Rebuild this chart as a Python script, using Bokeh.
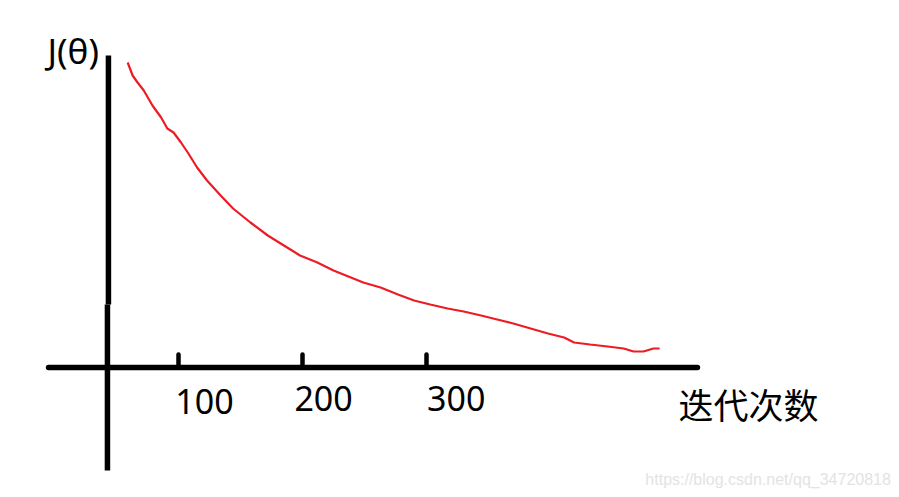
from bokeh.plotting import figure
from bokeh.models import Range1d
from bokeh.core.properties import value
from bokeh.embed import file_html
from bokeh.resources import INLINE

# ---- data ----
iterations = [59, 63, 67, 72, 79, 86, 91, 96, 102, 108, 115, 123, 134, 144, 158,
              172, 185, 198, 212, 225, 239, 249, 263, 277, 290, 303, 317, 330,
              344, 357, 370, 384, 398, 411, 419, 432, 446, 459, 467, 475, 483, 488]
cost = [3.05, 2.92, 2.85, 2.77, 2.62, 2.50, 2.39, 2.35, 2.25, 2.14, 2.00, 1.87,
        1.72, 1.59, 1.45, 1.32, 1.22, 1.12, 1.05, 0.97, 0.90, 0.85, 0.80, 0.73,
        0.67, 0.63, 0.59, 0.56, 0.52, 0.48, 0.44, 0.39, 0.34, 0.30, 0.25, 0.23,
        0.21, 0.19, 0.16, 0.16, 0.19, 0.19]
tick_values = [100, 200, 300]
tick_labels = ["100", "200", "300"]
y_label = "J(θ)"
x_label = "迭代次数"
watermark = "https://blog.csdn.net/qq_34720818"

# ---- figure ----
W, H = 891, 489
p = figure(width=W, height=H, output_backend="svg", toolbar_location=None,
           min_border=0,
           x_range=Range1d(-54 / 1.24, (W - 54) / 1.24),
           y_range=Range1d((367 - H) / 100, 3.67))
p.axis.visible = False
p.grid.visible = False
p.outline_line_color = None
p.background_fill_color = "white"
p.border_fill_color = "white"

# hand-drawn axes
p.segment(x0=[43.5], y0=[3.12], x1=[43.5], y1=[0.63], line_color="black",
          line_width=5.5)
p.segment(x0=[42.7], y0=[0.63], x1=[42.7], y1=[-1.03], line_color="black",
          line_width=5.5)
p.segment(x0=[-4.8], y0=[0.0], x1=[518.5], y1=[0.0], line_color="black",
          line_width=5.5, line_cap="round")
p.segment(x0=tick_values, y0=[0.0] * 3, x1=tick_values, y1=[0.13] * 3,
          line_color="black", line_width=4.5, line_cap="round")

# curve
p.line(iterations, cost, line_color="#ed1c24", line_width=2.2)

# tick labels
label_x = [t + dx for t, dx in zip(tick_values, [21, 17, 24])]
label_y = [-0.34, -0.31, -0.31]
p.text(x=label_x, y=label_y, text=tick_labels, text_font=value("Noto Sans"),
       text_font_size="34px", text_align="center", text_baseline="alphabetic",
       text_color="black")

# axis titles
p.text(x=[-5.6], y=[3.17], text=[y_label], text_font=value("Noto Sans"),
       text_font_size="35px", text_align="left", text_baseline="alphabetic",
       text_color="black")
p.text(x=[503.2], y=[-0.36], text=[x_label], text_font=value("Noto Sans CJK SC"),
       text_font_size="35px", text_align="left", text_baseline="alphabetic",
       text_color="black")

# watermark
p.text(x=[674.5], y=[-1.12], text=[watermark], text_font=value("Liberation Sans"),
       text_font_size="16px", text_align="right", text_baseline="alphabetic",
       text_color="#e3e3e3")

open("out.html", "w").write(file_html(p, INLINE))
